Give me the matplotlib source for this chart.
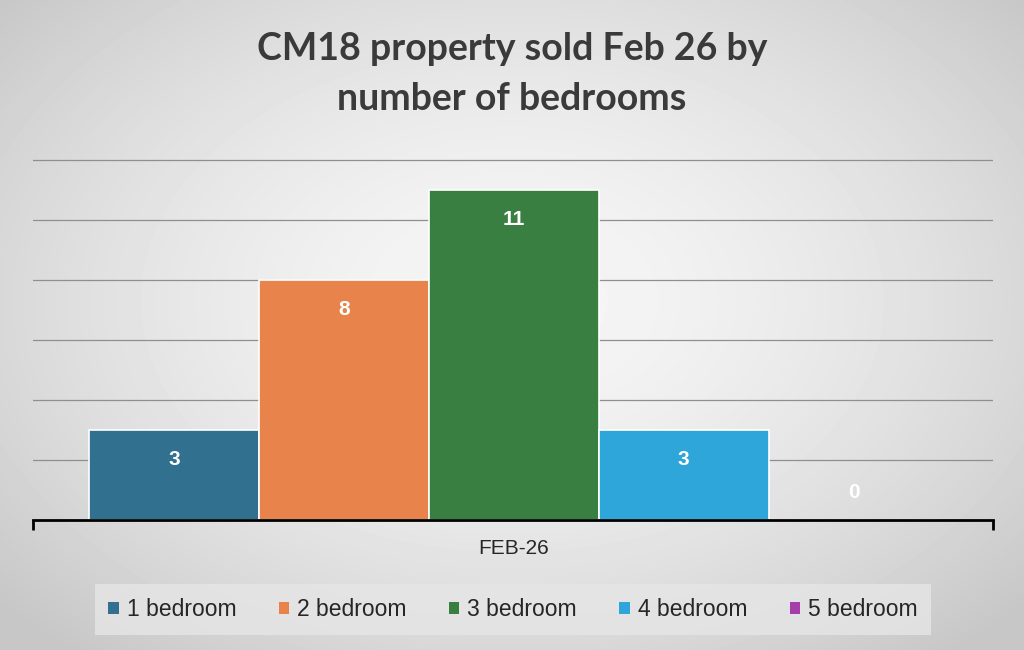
import numpy as np
import matplotlib.pyplot as plt
from matplotlib.patches import Patch

# data
categories = ["1 bedroom", "2 bedroom", "3 bedroom", "4 bedroom", "5 bedroom"]
sold = [3, 8, 11, 3, 0]
period = "FEB-26"
colors = ["#31708f", "#e8834b", "#3a7f42", "#2fa6da", "#a53eab"]

fig = plt.figure(figsize=(10.24, 6.5), dpi=100)

# soft radial grey background
bg = fig.add_axes([0, 0, 1, 1], zorder=-10)
yy, xx = np.mgrid[0:650, 0:1024]
r = np.sqrt(((xx - 512) / 620.0) ** 2 + ((yy - 300) / 420.0) ** 2)
shade = np.clip(0.965 - 0.16 * r ** 1.6, 0.78, 1)
bg.imshow(shade, cmap="gray", vmin=0, vmax=1, aspect="auto", extent=[0, 1, 0, 1])
bg.axis("off")

ax = fig.add_axes([33 / 1024, 0.2, 960 / 1024, 366 / 650])
ax.patch.set_alpha(0)
ax.set_axisbelow(True)

x = np.arange(len(sold))
ax.bar(x, sold, width=1.0, color=colors, edgecolor="white", linewidth=1.2, zorder=2)

for xi, v in zip(x, sold):
    ypos = v - 0.97 if v > 0 else 0.9
    ax.text(xi, ypos, str(v), ha="center", va="center", color="white",
            fontsize=15, fontweight="bold", family="Liberation Sans", zorder=4)

ax.set_xlim(-0.83, 4.82)
ax.set_ylim(0, 12.2)
ax.set_yticks(np.arange(2, 13, 2))
ax.yaxis.grid(True, color="#8f8f8f", linewidth=0.9)
ax.tick_params(axis="y", length=0, labelleft=False)

for s in ["top", "right", "left"]:
    ax.spines[s].set_visible(False)
ax.spines["bottom"].set_color("black")
ax.spines["bottom"].set_linewidth(2)
ax.spines["bottom"].set_zorder(5)

ax.set_xticks([2])
ax.set_xticklabels([period], fontsize=15, color="#262626", family="Liberation Sans")
ax.tick_params(axis="x", which="major", length=0, pad=14)
ax.set_xticks([-0.83, 4.82], minor=True)
ax.tick_params(axis="x", which="minor", length=7, width=2, color="black", direction="out")

fig.text(0.5, 1 - 74 / 650, "CM18 property sold Feb 26 by\nnumber of bedrooms", ha="center", va="center",
         fontsize=27, fontweight="bold", color="#3a3a3a", family="Lato", linespacing=1.55)

handles = [Patch(facecolor=c, label=l) for c, l in zip(colors, categories)]
leg = fig.legend(handles=handles, loc="center", bbox_to_anchor=(513 / 1024, 1 - 609.5 / 650), ncol=5,
                 frameon=True, facecolor="#e6e6e6", edgecolor="none", fancybox=False,
                 handlelength=0.45, handleheight=0.45, handletextpad=0.35, columnspacing=1.85,
                 borderpad=0.6, prop={"family": "Liberation Sans", "size": 16.5})
for t in leg.get_texts():
    t.set_color("#262626")

plt.savefig("out.png", dpi=100)
